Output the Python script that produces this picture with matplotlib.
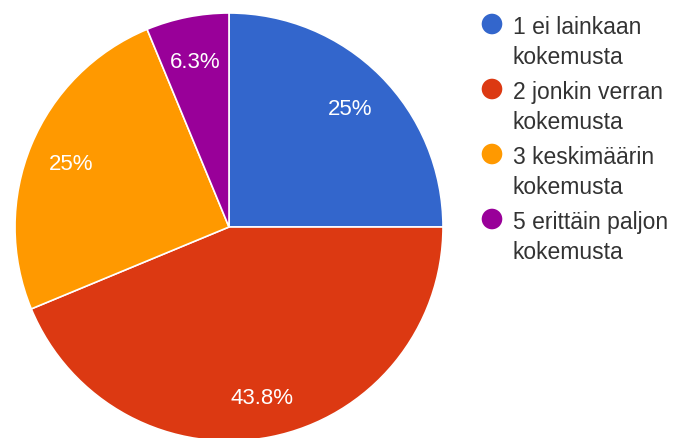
import matplotlib
matplotlib.use("Agg")
import matplotlib.pyplot as plt

# Data (answers out of 16)
categories = ["1 ei lainkaan\nkokemusta", "2 jonkin verran\nkokemusta",
              "3 keskimäärin\nkokemusta", "5 erittäin paljon\nkokemusta"]
counts = [4, 7, 4, 1]
pct_labels = ["25%", "43.8%", "25%", "6.3%"]
colors = ["#3366cc", "#dc3912", "#ff9900", "#990099"]

plt.rcParams["font.family"] = ["Liberation Sans", "DejaVu Sans"]

W, H = 673, 439
fig = plt.figure(figsize=(W / 100, H / 100), dpi=100)
fig.patch.set_facecolor("white")

# pie: centre (229, 228) px, radius 214 px
cx, cy, r = 229, 228, 214
ax = fig.add_axes([(cx - r) / W, (H - cy - r) / H, 2 * r / W, 2 * r / H])
wedges, texts, autotexts = ax.pie(
    counts, colors=colors, startangle=90, counterclock=False,
    autopct="%1.1f%%", pctdistance=0.8, radius=1,
    wedgeprops=dict(edgecolor="white", linewidth=1.2),
    textprops=dict(color="white", fontsize=16),
)
for t, s in zip(autotexts, pct_labels):
    t.set_text(s)
    t.set_va("center_baseline")
ax.set_xlim(-1, 1)
ax.set_ylim(-1, 1)
ax.set_aspect("equal")
ax.axis("off")

# legend, drawn in pixel coordinates
lg = fig.add_axes([0, 0, 1, 1], zorder=5)
lg.set_xlim(0, W)
lg.set_ylim(H, 0)
lg.axis("off")
for i, (label, col) in enumerate(zip(categories, colors)):
    y = 25 + 65 * i
    lg.scatter([492], [y], s=220, color=col, edgecolors="none")
    for j, line in enumerate(label.split("\n")):
        lg.text(513, y + 30 * j, line, va="center_baseline", ha="left",
                fontsize=16.5, color="#333333")

fig.savefig("out.png", dpi=100)
